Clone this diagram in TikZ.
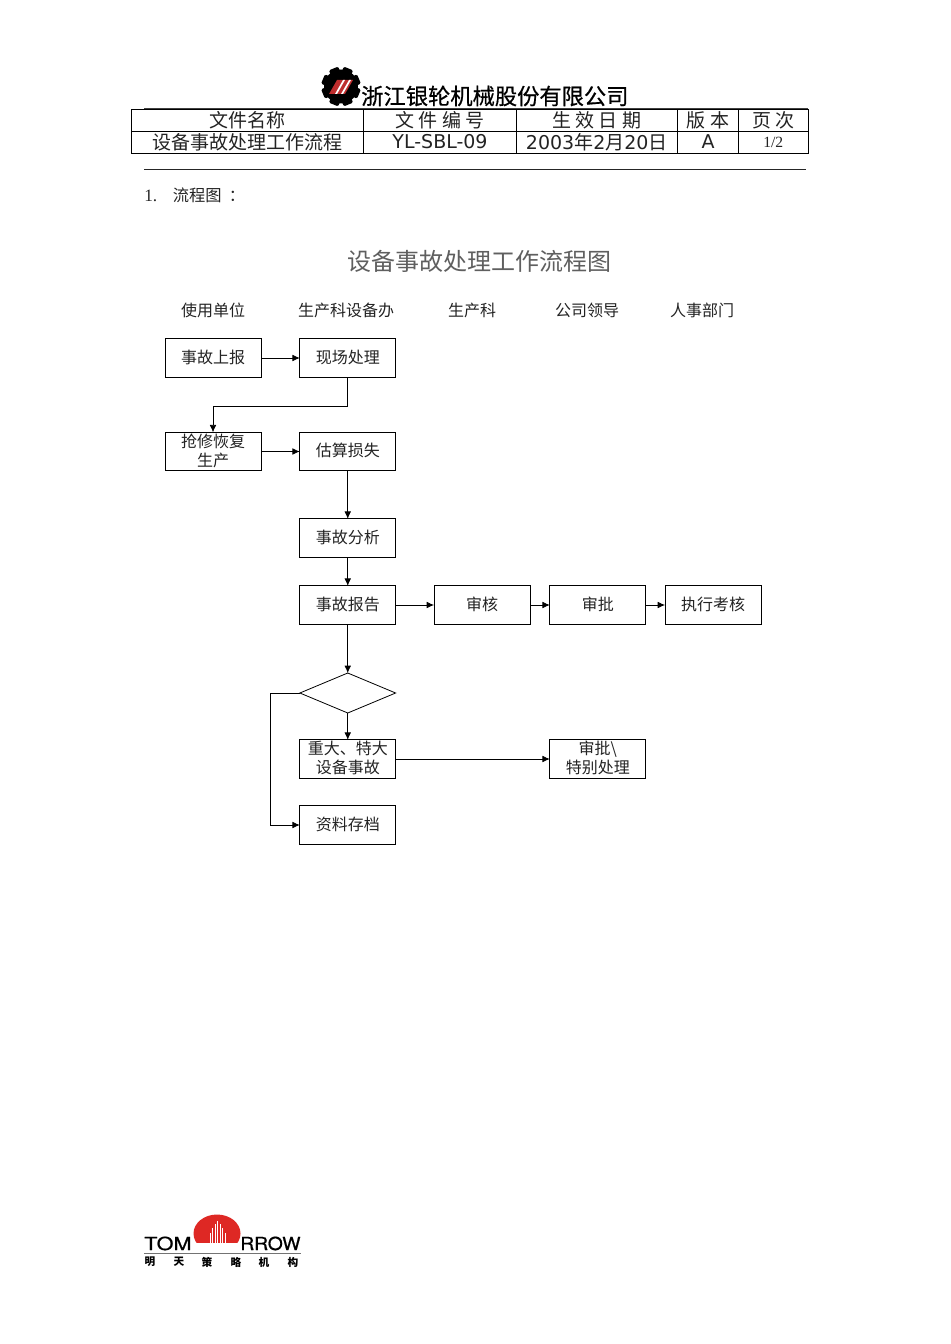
\documentclass[tikz,border=0pt]{standalone}
\usepackage{fontspec}
\setmainfont{Noto Sans CJK SC}
\newfontfamily\latinfont{DejaVu Sans}
\newfontfamily\romanfont{Liberation Serif}
\newfontfamily\logofont[FakeBold=0.8]{TeX Gyre Heros}
\newfontfamily\companyfont[FakeBold=0.6]{Noto Sans CJK SC}
\usetikzlibrary{arrows, arrows.meta}
\usetikzlibrary{positioning}
\usetikzlibrary{shapes.geometric}
\definecolor{logored}{RGB}{222,40,36}
\definecolor{gearred}{RGB}{190,45,45}
\definecolor{titlegray}{RGB}{95,95,95}
\definecolor{textdark}{RGB}{35,35,35}
\newcommand{\flowtext}[1]{\raisebox{2.2pt}{#1}}
\tikzset{
	cell/.style={draw, line width=0.6pt, inner sep=0pt, outer sep=0pt, minimum height=16.5pt, text=textdark, font=\fontsize{14.25}{16}\selectfont},
	flowbox/.style={draw, line width=0.6pt, inner sep=0pt, outer sep=0pt, minimum width=72pt, minimum height=28.8pt, align=center, text=textdark, font=\fontsize{12}{14}\selectfont},
	flowhead/.style={text=textdark, font=\fontsize{12}{14}\selectfont},
	flowarrow/.style={line width=0.55pt, -{Latex[length=5.5pt,width=5pt]}},
}
\begin{document}
\begin{tikzpicture}[x=0.75pt,y=-0.75pt]
	\useasboundingbox (0,0) rectangle (950,1344);
	% gear logo
	\foreach \a in {0,45,...,315}
		\fill[black, rounded corners=1pt, rotate around={\a+22.5:(341,86.5)}] (336,67) rectangle (346,80);
	\fill[black] (341,86.5) circle (17);
	\fill[gearred] (329,94) -- (337,80) -- (353,80) -- (345,94) -- cycle;
	\fill[white] (335,94) -- (343,80) -- (345,80) -- (337,94) -- cycle;
	\fill[white] (341,94) -- (349,80) -- (351,80) -- (343,94) -- cycle;
	\node[anchor=west, inner sep=0pt, font=\companyfont\fontsize{16.7}{18}\selectfont] (company) at (361,96) {浙江银轮机械股份有限公司};
	% header table
	\draw[line width=1.2pt, black!75] (144,109) -- (808,109);
	\node[cell, minimum width=174pt] (namehead) at (247.75,120) {文件名称};
	\node[cell, minimum width=114.4pt] (codehead) at (440,120) {文 件 编 号};
	\node[cell, minimum width=120.8pt] (datehead) at (596.75,120) {生 效 日 期};
	\node[cell, minimum width=46.1pt] (verhead) at (708,120) {版 本};
	\node[cell, minimum width=52.1pt] (pagehead) at (773.25,120) {页 次};
	\node[cell, minimum width=174pt] (nameval) at (247.75,142) {设备事故处理工作流程};
	\node[cell, minimum width=114.4pt] (codeval) at (440,142) {\latinfont YL-SBL-09};
	\node[cell, minimum width=120.8pt] (dateval) at (596.75,142) {{\latinfont 2003}年{\latinfont 2}月{\latinfont 20}日};
	\node[cell, minimum width=46.1pt] (verval) at (708,142) {\latinfont A};
	\node[cell, minimum width=52.1pt] (pageval) at (773.25,142) {\romanfont\fontsize{11.7}{13}\selectfont 1/2};
	\draw[line width=0.8pt, black!85] (144,169.5) -- (806,169.5);
	\node[anchor=west, inner sep=0pt, text=textdark, font=\fontsize{12.2}{14}\selectfont] (section) at (144,195) {{\romanfont\fontsize{13}{14}\selectfont 1.}\hspace{11.7pt}流程图\hspace{5.5pt}：};
	% title and column heads
	\node[text=titlegray, font=\fontsize{18}{20}\selectfont] (charttitle) at (479,261) {设备事故处理工作流程图};
	\node[flowhead] (headuser) at (213,310) {使用单位};
	\node[flowhead] (headoffice) at (346,310) {生产科设备办};
	\node[flowhead] (headdept) at (472,310) {生产科};
	\node[flowhead] (headboss) at (587,310) {公司领导};
	\node[flowhead] (headhr) at (702,310) {人事部门};
	% flow nodes
	\node[flowbox] (report) at (213,358) {\flowtext{事故上报}};
	\node[flowbox] (onsite) at (347.75,358) {\flowtext{现场处理}};
	\node[flowbox] (repair) at (213,451.5) {\flowtext{抢修恢复}\\\flowtext{生产}};
	\node[flowbox] (estimate) at (347.75,451.5) {\flowtext{估算损失}};
	\node[flowbox] (analysis) at (347.75,538) {\flowtext{事故分析}};
	\node[flowbox] (accident) at (347.75,605) {\flowtext{事故报告}};
	\node[flowbox] (review) at (482,605) {\flowtext{审核}};
	\node[flowbox] (approve) at (597.75,605) {\flowtext{审批}};
	\node[flowbox] (assess) at (713,605) {\flowtext{执行考核}};
	\node[diamond, draw, line width=0.6pt, inner sep=0pt, outer sep=0pt, minimum width=71.8pt, minimum height=30pt, aspect=2.4] (decide) at (347.75,693) {};
	\node[flowbox] (major) at (347.75,759) {\flowtext{重大、特大}\\\flowtext{设备事故}};
	\node[flowbox] (special) at (597.75,759) {\flowtext{审批\textbackslash}\\\flowtext{特别处理}};
	\node[flowbox] (archive) at (347.75,825) {\flowtext{资料存档}};
	\coordinate (turnrepair) at (347.75,406);
	\coordinate (turnarchive) at (270.5,693);
	% connectors
	\draw[flowarrow] (report) -- (onsite);
	\draw[flowarrow] (onsite.south) -- (turnrepair) -| (repair.north);
	\draw[flowarrow] (repair) -- (estimate);
	\draw[flowarrow] (estimate) -- (analysis);
	\draw[flowarrow] (analysis) -- (accident);
	\draw[flowarrow] (accident) -- (review);
	\draw[flowarrow] (review) -- (approve);
	\draw[flowarrow] (approve) -- (assess);
	\draw[flowarrow] (accident) -- (decide.north);
	\draw[flowarrow] (decide.south) -- (major);
	\draw[flowarrow] (major) -- (special);
	\draw[flowarrow] (decide.west) -- (turnarchive) |- (archive.west);
	% footer logo
	\begin{scope}
		\clip (190,1210) rectangle (245,1242.5);
		\fill[logored] (217,1233.5) ellipse (23.5 and 19);
	\end{scope}
	\foreach \x/\t in {210/1233,212.5/1228,215/1224,217.5/1221,220/1224,222.5/1228,225/1233}
		\draw[white, line width=0.5pt] (\x,\t) -- (\x,1243);
	\node[anchor=base west, inner sep=0pt, font=\logofont\fontsize{13.5}{14}\selectfont, xscale=1.2, transform shape] (logoleft) at (144,1250) {TOM};
	\node[anchor=base west, inner sep=0pt, font=\logofont\fontsize{13.5}{14}\selectfont, xscale=1.07, transform shape] (logoright) at (240,1250) {RROW};
	\draw[line width=1.1pt, black!55] (144,1253.5) -- (301,1253.5);
	\node[inner sep=0pt, font=\bfseries\fontsize{8}{8}\selectfont] (logoa) at (150,1262) {明};
	\node[inner sep=0pt, font=\bfseries\fontsize{8}{8}\selectfont] (logob) at (179,1262) {天};
	\node[inner sep=0pt, font=\bfseries\fontsize{8}{8}\selectfont] (logoc) at (207,1262) {策};
	\node[inner sep=0pt, font=\bfseries\fontsize{8}{8}\selectfont] (logod) at (236,1262) {略};
	\node[inner sep=0pt, font=\bfseries\fontsize{8}{8}\selectfont] (logoe) at (264,1262) {机};
	\node[inner sep=0pt, font=\bfseries\fontsize{8}{8}\selectfont] (logof) at (293,1262) {构};
\end{tikzpicture}
\end{document}
